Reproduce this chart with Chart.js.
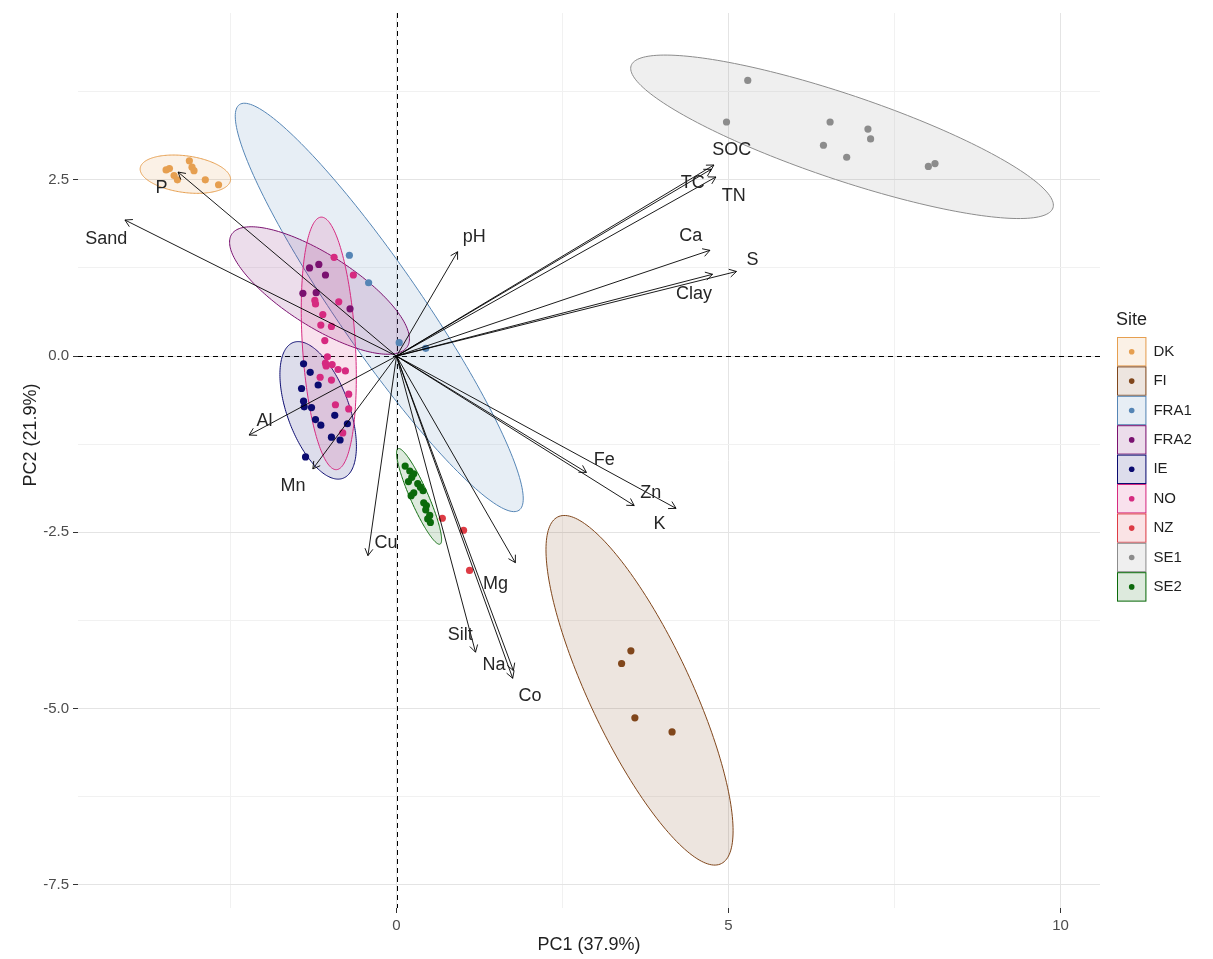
<!DOCTYPE html>
<html><head><meta charset="utf-8">
<script src="https://cdn.jsdelivr.net/npm/chart.js@4.4.0/dist/chart.umd.min.js"></script>
<style>html,body{margin:0;padding:0;background:#fff;}#wrap{width:1213px;height:959px;position:relative;}</style>
</head><body><div id="wrap"><canvas id="c" width="1213" height="959"></canvas></div>
<script>
const FONT = '"Liberation Sans", Arial, Helvetica, sans-serif';

// ---- categories ----
const sites = ['DK','FI','FRA1','FRA2','IE','NO','NZ','SE1','SE2'];
const siteColors = ['#E69F50','#80461B','#5585B5','#7A1170','#0B0B70','#D62A80','#DD3B44','#8C8C8C','#0B6A0B'];

// ---- individual scores (PC1, PC2) ----
const ptsDK = [[-3.47,2.64],[-3.42,2.66],[-3.12,2.77],[-3.08,2.68],[-3.05,2.63],[-3.35,2.56],[-3.30,2.50],[-2.88,2.50],[-2.68,2.43]];
const ptsFI = [[3.53,-4.18],[3.39,-4.36],[3.59,-5.13],[4.15,-5.33]];
const ptsFRA1 = [[-0.71,1.43],[-0.42,1.04],[0.04,0.19],[0.44,0.11]];
const ptsFRA2 = [[-1.31,1.25],[-1.17,1.30],[-1.07,1.15],[-1.21,0.90],[-1.41,0.89],[-0.70,0.67]];
const ptsIE = [[-1.40,-0.11],[-1.30,-0.23],[-1.18,-0.41],[-1.43,-0.46],[-1.40,-0.64],[-1.39,-0.72],[-1.28,-0.73],[-1.22,-0.90],[-1.14,-0.98],[-0.93,-0.84],[-0.74,-0.96],[-0.98,-1.15],[-0.85,-1.19],[-1.37,-1.43]];
const ptsNO = [[-0.94,1.40],[-0.65,1.15],[-1.23,0.79],[-1.22,0.74],[-0.87,0.77],[-1.11,0.59],[-1.14,0.44],[-0.98,0.42],[-1.08,0.22],[-1.04,-0.01],[-1.07,-0.10],[-1.06,-0.14],[-0.97,-0.12],[-0.88,-0.19],[-0.77,-0.21],[-1.15,-0.30],[-0.98,-0.34],[-0.72,-0.54],[-0.92,-0.69],[-0.72,-0.75],[-0.81,-1.09]];
const ptsNZ = [[0.69,-2.30],[1.01,-2.47],[1.10,-3.04]];
const ptsSE1 = [[5.29,3.91],[4.97,3.32],[6.53,3.32],[7.10,3.22],[7.14,3.08],[6.43,2.99],[6.78,2.82],[8.01,2.69],[8.11,2.73]];
const ptsSE2 = [[0.13,-1.56],[0.20,-1.63],[0.26,-1.67],[0.23,-1.72],[0.18,-1.78],[0.32,-1.81],[0.36,-1.86],[0.40,-1.91],[0.26,-1.94],[0.22,-1.98],[0.41,-2.08],[0.45,-2.12],[0.44,-2.18],[0.47,-2.31],[0.51,-2.36],[0.50,-2.26]];
const sitePoints = [ptsDK, ptsFI, ptsFRA1, ptsFRA2, ptsIE, ptsNO, ptsNZ, ptsSE1, ptsSE2];

// ---- confidence ellipses: centre and two conjugate semi-diameters (data units) ----
const ellCx = [-3.18, 3.66, -0.26, -1.16, -1.18, -1.02, null, 6.71, 0.34];
const ellCy = [2.58, -4.74, 0.69, 0.93, -0.77, 0.18, null, 3.11, -1.99];
const ellUx = [0.681, 1.409, 2.105, 1.323, 0.576, 0.116, null, 3.183, 0.316];
const ellUy = [-0.072, -1.993, -2.877, -0.797, -0.509, -1.791, null, -0.970, -0.677];
const ellVx = [0, 0, 0.522, 0.292, 0, 0.398, null, 0, 0.123];
const ellVy = [-0.262, -1.475, 0.334, 0.427, -0.832, 0.023, null, -0.635, 0.052];

// ---- variable loadings (arrow tips) and label positions ----
const varNames = ['Sand','P','pH','SOC','TC','TN','Ca','S','Clay','Fe','Zn','K','Mg','Na','Co','Silt','Cu','Mn','Al'];
const varPC1 = [-4.09,-3.29,0.92,4.78,4.74,4.81,4.72,5.12,4.76,2.86,4.21,3.58,1.79,1.76,1.75,1.19,-0.43,-1.26,-2.22];
const varPC2 = [1.93,2.61,1.48,2.71,2.65,2.54,1.50,1.20,1.16,-1.65,-2.16,-2.12,-2.93,-4.46,-4.57,-4.20,-2.83,-1.60,-1.12];
const labelPC1 = [-4.37,-3.54,1.17,5.05,4.46,5.08,4.43,5.36,4.48,3.13,3.83,3.96,1.49,1.47,2.01,0.96,-0.16,-1.56,-1.99];
const labelPC2 = [1.66,2.39,1.69,2.92,2.45,2.27,1.70,1.36,0.88,-1.47,-1.94,-2.38,-3.23,-4.38,-4.82,-3.95,-2.65,-1.85,-0.92];

// ---- ticks ----
const xTickVals = [-2.5, 0, 2.5, 5, 7.5, 10];
const xTickLabels = ['', '0', '', '5', '', '10'];
const yTickVals = [-7.5, -6.25, -5, -3.75, -2.5, -1.25, 0, 1.25, 2.5, 3.75];
const yTickLabels = ['-7.5', '', '-5.0', '', '-2.5', '', '0.0', '', '2.5', ''];
const xTitle = 'PC1 (37.9%)';
const yTitle = 'PC2 (21.9%)';
const legendTitle = 'Site';

function rgba(hex, a){
  const n = parseInt(hex.slice(1), 16);
  return 'rgba(' + ((n>>16)&255) + ',' + ((n>>8)&255) + ',' + (n&255) + ',' + a + ')';
}

const overlay = {
  id: 'overlay',
  beforeDatasetsDraw(chart){
    const {ctx, chartArea: a, scales: {x, y}} = chart;
    ctx.save();
    ctx.beginPath(); ctx.rect(a.left, a.top, a.right - a.left, a.bottom - a.top); ctx.clip();
    ctx.setLineDash([5, 4]);
    ctx.strokeStyle = '#000'; ctx.lineWidth = 1;
    const x0 = Math.round(x.getPixelForValue(0)) + 0.5;
    const y0 = Math.round(y.getPixelForValue(0)) + 0.5;
    ctx.beginPath(); ctx.moveTo(x0, a.top); ctx.lineTo(x0, a.bottom); ctx.stroke();
    ctx.beginPath(); ctx.moveTo(a.left, y0); ctx.lineTo(a.right, y0); ctx.stroke();
    ctx.setLineDash([]);
    sites.forEach((s, i) => {
      if (ellCx[i] === null) return;
      ctx.beginPath();
      for (let k = 0; k <= 200; k++) {
        const t = k / 200 * 2 * Math.PI;
        const dx = ellCx[i] + Math.cos(t) * ellUx[i] + Math.sin(t) * ellVx[i];
        const dy = ellCy[i] + Math.cos(t) * ellUy[i] + Math.sin(t) * ellVy[i];
        const px = x.getPixelForValue(dx), py = y.getPixelForValue(dy);
        if (k === 0) ctx.moveTo(px, py); else ctx.lineTo(px, py);
      }
      ctx.closePath();
      ctx.fillStyle = rgba(siteColors[i], 0.14);
      ctx.fill();
      ctx.strokeStyle = siteColors[i]; ctx.lineWidth = 1;
      ctx.stroke();
    });
    ctx.restore();
  },
  afterDatasetsDraw(chart){
    const {ctx, scales: {x, y}} = chart;
    ctx.save();
    const ox = x.getPixelForValue(0), oy = y.getPixelForValue(0);
    ctx.strokeStyle = '#000'; ctx.lineWidth = 0.9;
    varNames.forEach((n, i) => {
      const tx = x.getPixelForValue(varPC1[i]), ty = y.getPixelForValue(varPC2[i]);
      ctx.beginPath(); ctx.moveTo(ox, oy); ctx.lineTo(tx, ty); ctx.stroke();
      const ang = Math.atan2(ty - oy, tx - ox);
      const L = 8, h = Math.PI / 6;
      ctx.beginPath();
      ctx.moveTo(tx - L * Math.cos(ang - h), ty - L * Math.sin(ang - h));
      ctx.lineTo(tx, ty);
      ctx.lineTo(tx - L * Math.cos(ang + h), ty - L * Math.sin(ang + h));
      ctx.stroke();
    });
    ctx.fillStyle = '#262626';
    ctx.font = '18px ' + FONT;
    ctx.textAlign = 'center'; ctx.textBaseline = 'middle';
    varNames.forEach((n, i) => {
      ctx.fillText(n, x.getPixelForValue(labelPC1[i]), y.getPixelForValue(labelPC2[i]));
    });
    ctx.restore();
  },
  afterDraw(chart){
    const {ctx, chartArea: a} = chart;
    ctx.save();
    ctx.fillStyle = '#1f1f1f';
    ctx.font = '18px ' + FONT;
    ctx.textAlign = 'center'; ctx.textBaseline = 'middle';
    ctx.fillText(xTitle, (a.left + a.right) / 2, 945);
    ctx.save(); ctx.translate(31, 435); ctx.rotate(-Math.PI / 2); ctx.fillText(yTitle, 0, 0); ctx.restore();
    const lx = 1117, ly = 337, key = 29.4;
    ctx.textAlign = 'left';
    ctx.fillText(legendTitle, lx - 1, 320);
    ctx.font = '15px ' + FONT;
    sites.forEach((s, i) => {
      const top = ly + i * key;
      ctx.fillStyle = '#fff'; ctx.fillRect(lx, top, key, key);
      ctx.fillStyle = rgba(siteColors[i], 0.14); ctx.fillRect(lx, top, key, key);
      ctx.strokeStyle = siteColors[i]; ctx.lineWidth = 1;
      ctx.strokeRect(lx + 0.5, top + 0.5, key - 1, key - 1);
      ctx.beginPath(); ctx.arc(lx + key / 2, top + key / 2, 2.8, 0, 2 * Math.PI);
      ctx.fillStyle = siteColors[i]; ctx.fill();
      ctx.fillStyle = '#1f1f1f';
      ctx.fillText(s, lx + key + 7, top + key / 2);
    });
    ctx.restore();
  }
};

const datasets = sites.map((s, i) => ({
  label: s,
  data: sitePoints[i].map(p => ({x: p[0], y: p[1]})),
  backgroundColor: siteColors[i],
  borderWidth: 0,
  pointRadius: 3.6,
  pointHoverRadius: 3.6
}));

new Chart(document.getElementById('c'), {
  type: 'scatter',
  data: {datasets},
  options: {
    responsive: false, animation: false, events: [],
    layout: {padding: {left: 0, right: 113, top: 8, bottom: 0}},
    plugins: {legend: {display: false}, tooltip: {enabled: false}},
    scales: {
      x: {
        type: 'linear', min: -4.797, max: 10.595,
        afterBuildTicks: s => { s.ticks = xTickVals.map(v => ({value: v})); },
        afterFit: s => { s.height = 51; },
        border: {display: false},
        grid: {
          color: c => xTickLabels[c.index] ? '#e4e4e4' : '#f1f1f1',
          tickColor: c => xTickLabels[c.index] ? '#333' : 'rgba(0,0,0,0)',
          tickLength: 5, lineWidth: 1
        },
        ticks: {callback: (v, i) => xTickLabels[i], color: '#4d4d4d', font: {family: FONT, size: 15}, padding: 4, maxRotation: 0, autoSkip: false}
      },
      y: {
        type: 'linear', min: -7.828, max: 4.866,
        afterBuildTicks: s => { s.ticks = yTickVals.map(v => ({value: v})); },
        afterFit: s => { s.width = 78; },
        border: {display: false},
        grid: {
          color: c => yTickLabels[c.index] ? '#e4e4e4' : '#f1f1f1',
          tickColor: c => yTickLabels[c.index] ? '#333' : 'rgba(0,0,0,0)',
          tickLength: 5, lineWidth: 1
        },
        ticks: {callback: (v, i) => yTickLabels[i], color: '#4d4d4d', font: {family: FONT, size: 15}, padding: 4, autoSkip: false}
      }
    }
  },
  plugins: [overlay]
});
</script></body></html>
